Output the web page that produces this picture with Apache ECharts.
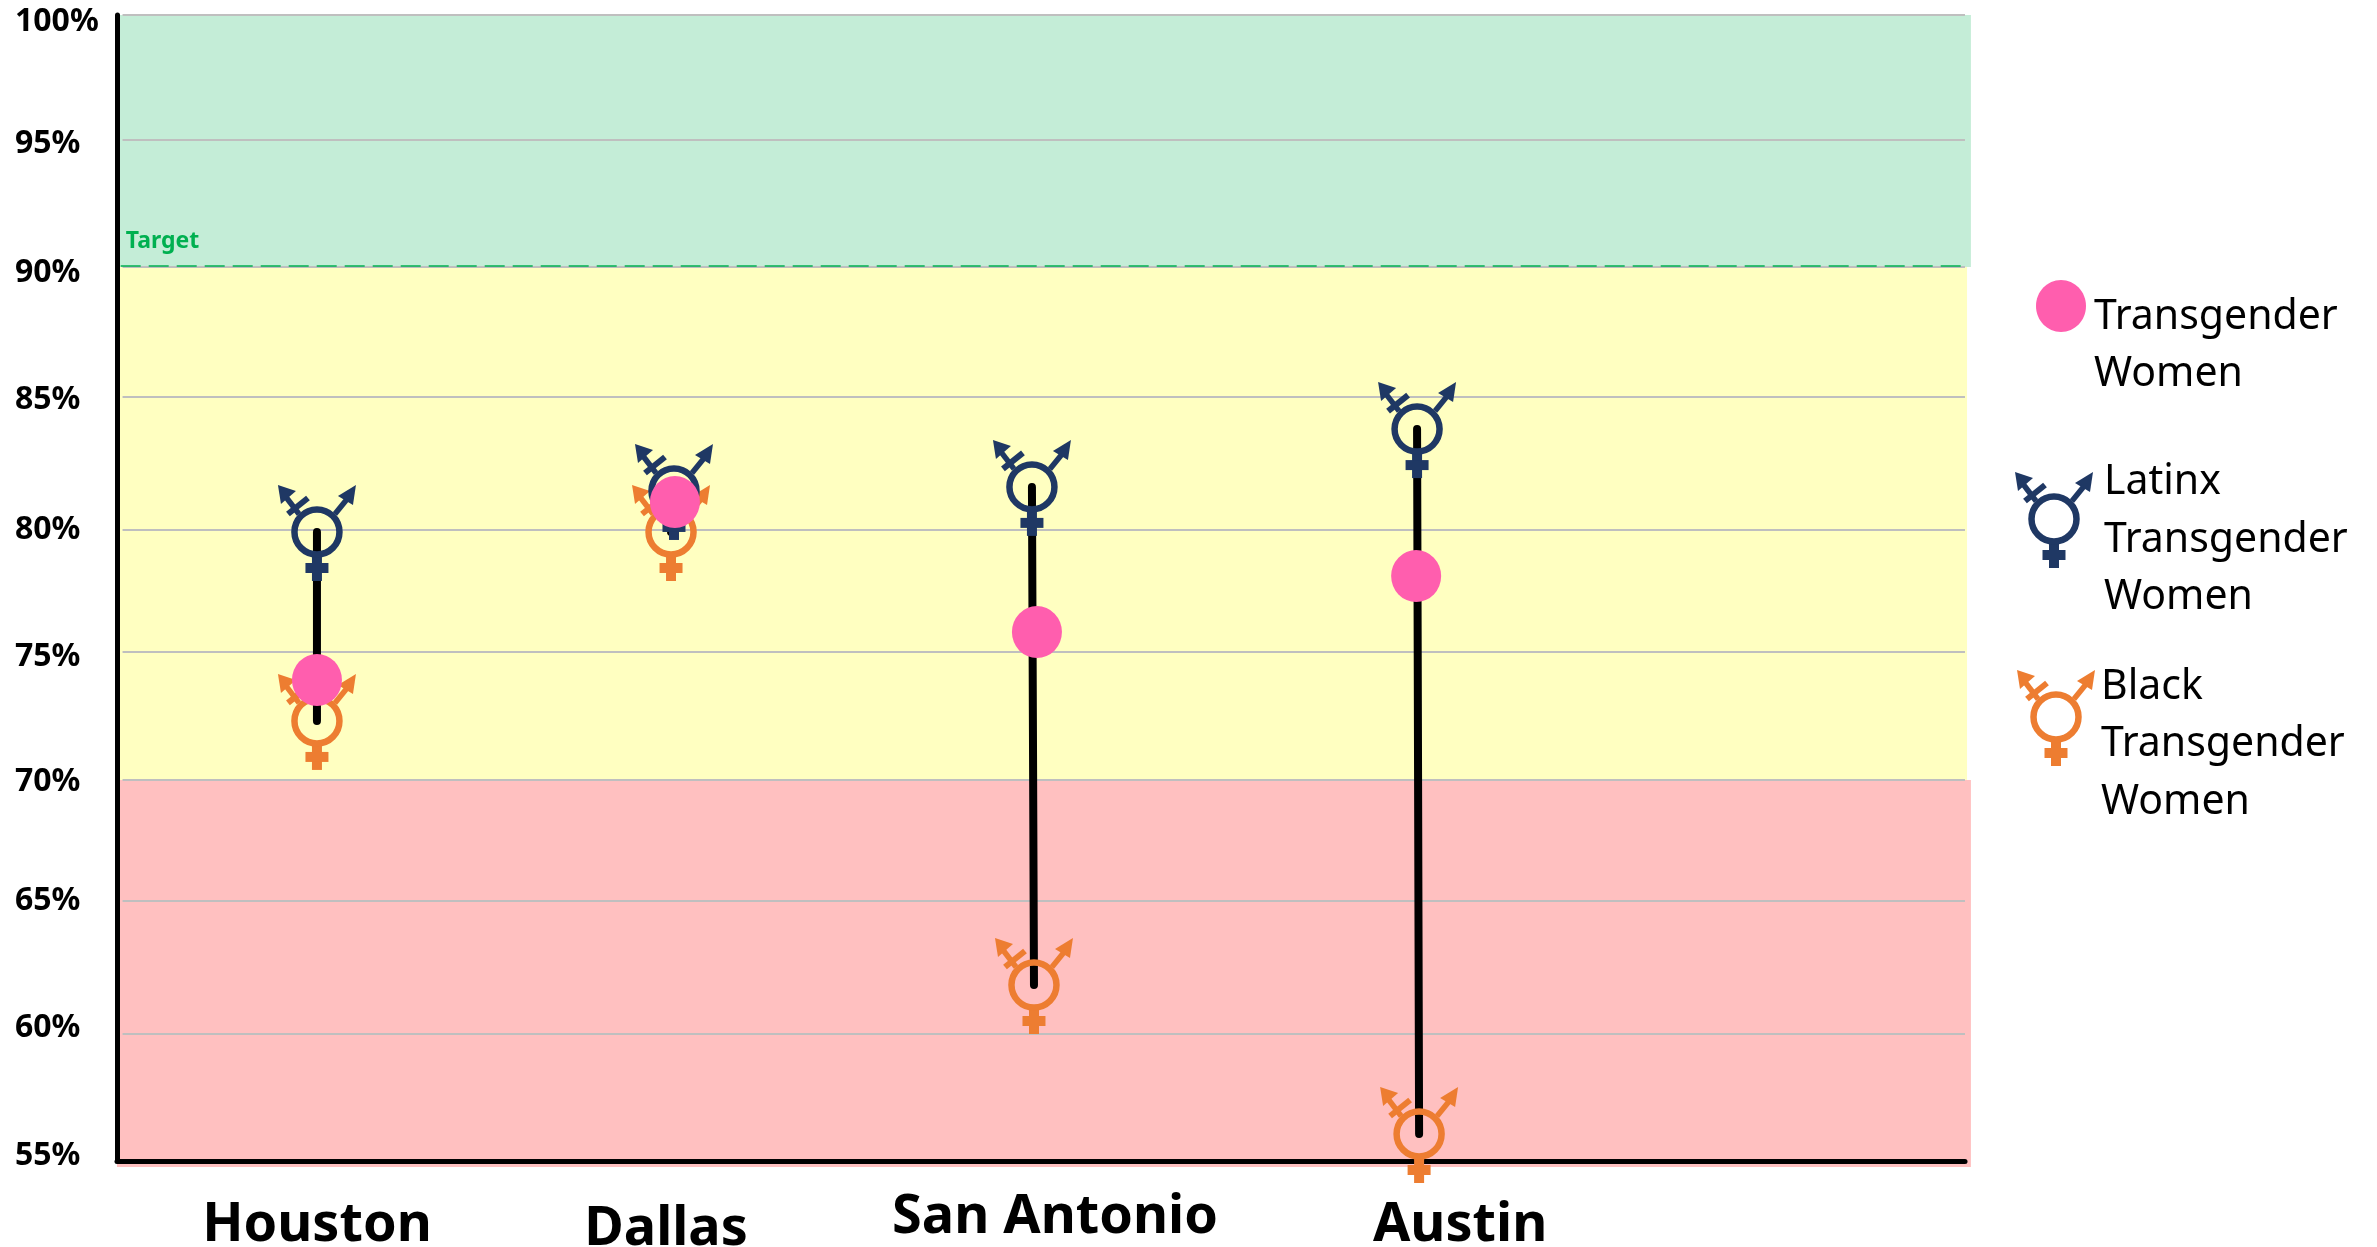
<!DOCTYPE html>
<html><head><meta charset="utf-8">
<style>html,body{margin:0;padding:0;background:#fff}#c{width:2377px;height:1247px}</style>
<script src="https://cdn.jsdelivr.net/npm/echarts@6/dist/echarts.min.js"></script>
</head><body><div id="c"></div>
<script>
const cities = ['Houston', 'Dallas', 'San Antonio', 'Austin'];
const cityLabelX = [10.82, 29.71, 50.76, 72.68];
const latinxX = [10.82, 30.14, 49.51, 70.35];
const latinxY = [79.70, 81.31, 81.47, 83.74];
const blackX = [10.82, 29.98, 49.62, 70.46];
const blackY = [72.28, 79.70, 61.91, 56.06];
const allX = [10.82, 30.19, 49.78, 70.30];
const allY = [73.89, 80.88, 75.77, 77.97];
const tickLabels = ['100%', '95%', '90%', '85%', '80%', '75%', '70%', '65%', '60%', '55%'];
const tickLabelY = [99.72, 94.93, 89.87, 84.88, 79.77, 74.79, 69.88, 65.21, 60.22, 55.19];
const gridY = [100, 95.09, 90.10, 85, 79.78, 74.99, 69.96, 65.21, 59.99];
const bandFrom = [90.10, 69.96, 54.76];
const bandTo = [100, 90.10, 69.96];
const bandEndX = [100.32, 100.11, 100.32];
const bandColors = ['#c4edd7', '#ffffc1', '#ffc0c0'];
const targetY = 90.15;
const NAVY = '#1f3864', ORANGE = '#ed7d31', PINK = '#ff5eae';
const legendAll = ['Transgender', 'Women'];
const legendLatinx = ['Latinx', 'Transgender', 'Women'];
const legendBlack = ['Black', 'Transgender', 'Women'];
const cityLabelStyles = ['low', 'lower', 'base', 'low'];

function symbolChildren(color) {
  const s = {stroke: color, lineWidth: 5.5, fill: 'none'};
  const f = {fill: color};
  return [
    {type: 'line', shape: {x1: 18, y1: -18, x2: 31, y2: -34}, style: s},
    {type: 'polygon', shape: {points: [[39, -47], [21, -36], [36, -27]]}, style: f},
    {type: 'line', shape: {x1: -18, y1: -18, x2: -31, y2: -35}, style: s},
    {type: 'polygon', shape: {points: [[-39, -47], [-36, -28], [-21, -41]]}, style: f},
    {type: 'line', shape: {x1: -29, y1: -18, x2: -9, y2: -34}, style: {stroke: color, lineWidth: 6, fill: 'none'}},
    {type: 'line', shape: {x1: 0, y1: 22, x2: 0, y2: 49}, style: {stroke: color, lineWidth: 10, fill: 'none'}},
    {type: 'line', shape: {x1: -11.5, y1: 36, x2: 11.5, y2: 36}, style: {stroke: color, lineWidth: 10, fill: 'none'}},
    {type: 'circle', shape: {cx: 0, cy: 0, r: 22.5}, style: {stroke: color, lineWidth: 6.5, fill: 'none'}}
  ];
}
function symbolSeries(name, xs, ys, color, z) {
  return {
    type: 'custom', name, z, silent: true, clip: false,
    data: xs.map((x, i) => [x, ys[i]]),
    renderItem: (p, api) => {
      const c = api.coord([api.value(0), api.value(1)]);
      return {type: 'group', x: c[0], y: c[1], children: symbolChildren(color)};
    }
  };
}
function legendText(lines, x, ys) {
  return lines.map((t, i) => ({
    type: 'text', x, y: ys[i],
    style: {text: t, font: '41px "Noto Sans"', fill: '#000', textVerticalAlign: 'middle', verticalAlign: 'middle'}
  }));
}
const linkSeries = cities.map((c, i) => ({
  type: 'line', name: c + ' gap', z: 3, silent: true, showSymbol: false, symbol: 'none',
  data: [[latinxX[i], latinxY[i]], [blackX[i], blackY[i]]],
  lineStyle: {color: '#000', width: 8, cap: 'round'}
}));
const cityFont = {fontFamily: 'Noto Sans', fontWeight: 'bold', fontSize: 54, color: '#000'};

const chart = echarts.init(document.getElementById('c'), null, {renderer: 'canvas'});
chart.setOption({
  animation: false,
  backgroundColor: '#fff',
  grid: {left: 117, top: 15, width: 1848, height: 1146, containLabel: false, outerBoundsMode: 'none'},
  tooltip: {show: false},
  legend: {show: false},
  xAxis: {
    type: 'value', min: 0, max: 100, splitLine: {show: false},
    axisLine: {show: true, lineStyle: {color: '#000', width: 5}},
    axisTick: {show: false},
    axisLabel: {
      customValues: cityLabelX, margin: 30, hideOverlap: false,
      formatter: (v) => {
        const i = cityLabelX.indexOf(v);
        return '{' + cityLabelStyles[i] + '|' + cities[i] + '}';
      },
      rich: {
        base: {...cityFont},
        low: {...cityFont, padding: [8, 0, 0, 0]},
        lower: {...cityFont, padding: [12, 0, 0, 0]}
      },
      ...cityFont
    }
  },
  yAxis: {
    type: 'value', min: 55, max: 100, interval: 5, splitLine: {show: false},
    axisLine: {show: true, onZero: false, lineStyle: {color: '#000', width: 5}},
    axisTick: {show: false},
    axisLabel: {
      customValues: tickLabelY, margin: 102, align: 'left', hideOverlap: false,
      formatter: (v) => tickLabels[tickLabelY.indexOf(v)],
      fontFamily: 'Noto Sans', fontWeight: 'bold', fontSize: 32, color: '#000'
    }
  },
  graphic: [
    {type: 'ellipse', shape: {cx: 2061, cy: 306, rx: 25, ry: 26}, style: {fill: PINK}},
    {type: 'group', x: 2054, y: 519, children: symbolChildren(NAVY)},
    {type: 'group', x: 2056, y: 717, children: symbolChildren(ORANGE)},
    ...legendText(legendAll, 2094, [317, 374]),
    ...legendText(legendLatinx, 2104, [482, 540, 597]),
    ...legendText(legendBlack, 2101, [687, 744, 802])
  ],
  series: [
    {
      type: 'custom', name: 'Bands', z: 0, silent: true, clip: false,
      data: bandFrom.map((f, i) => [f, bandTo[i], bandEndX[i]]),
      renderItem: (p, api) => {
        const a = api.coord([0, api.value(1)]), b = api.coord([api.value(2), api.value(0)]);
        return {type: 'rect', shape: {x: a[0], y: a[1], width: b[0] - a[0], height: b[1] - a[1]},
          style: {fill: bandColors[p.dataIndex]}};
      }
    },
    {
      type: 'custom', name: 'Gridlines', z: 1, silent: true, clip: false,
      data: gridY.map(v => [v]),
      renderItem: (p, api) => {
        const a = api.coord([0.3, api.value(0)]), b = api.coord([100, api.value(0)]);
        return {type: 'line', shape: {x1: a[0], y1: a[1], x2: b[0], y2: b[1]},
          style: {stroke: '#bfbfbf', lineWidth: 2}};
      },
      markLine: {
        silent: true, symbol: 'none', animation: false,
        lineStyle: {color: '#00b050', width: 1.5, type: [20, 8]},
        label: {show: true, position: 'insideStartTop', formatter: 'Target', color: '#00b050',
          fontFamily: 'Noto Sans', fontWeight: 'bold', fontSize: 23, distance: [5, 13]},
        data: [[{coord: [0.2, targetY]}, {coord: [100, targetY]}]]
      }
    },
    ...linkSeries,
    symbolSeries('Black Transgender Women', blackX, blackY, ORANGE, 4),
    symbolSeries('Latinx Transgender Women', latinxX, latinxY, NAVY, 5),
    {
      type: 'scatter', name: 'Transgender Women', z: 6, silent: true,
      data: allX.map((x, i) => [x, allY[i]]),
      symbol: 'circle', symbolSize: [50, 52], itemStyle: {color: PINK, opacity: 1}
    }
  ]
});
</script></body></html>
